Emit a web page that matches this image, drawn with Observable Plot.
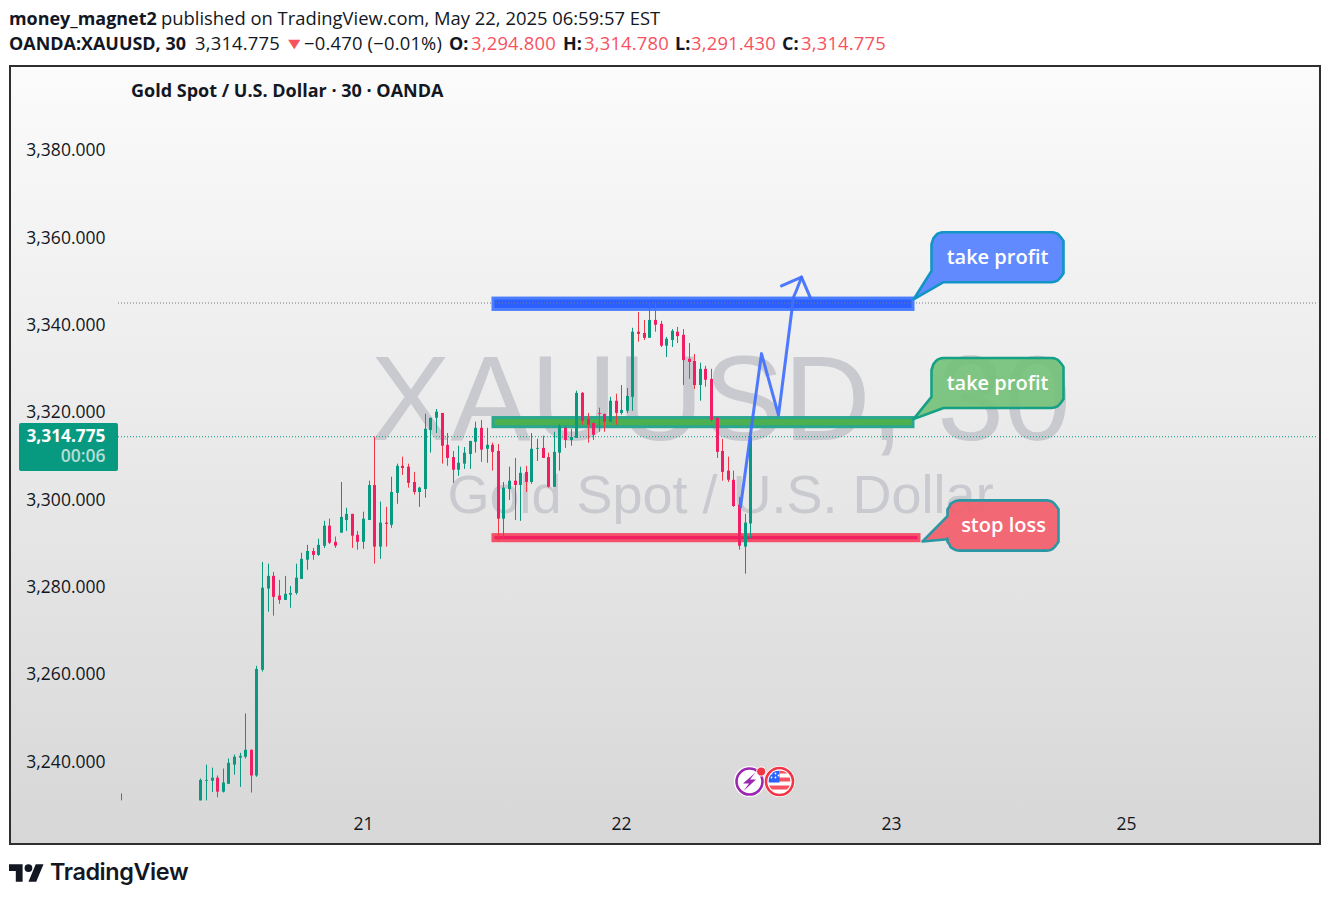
<!DOCTYPE html>
<html><head><meta charset="utf-8">
<script src="https://cdn.jsdelivr.net/npm/d3@7"></script>
<script src="https://cdn.jsdelivr.net/npm/@observablehq/plot@0.6"></script>
<style>
html,body{margin:0;padding:0;background:#fff;width:1330px;height:899px;overflow:hidden}
body{font-family:"Open Sans","Noto Sans",sans-serif;color:#131722;position:relative}
.hd{position:absolute;white-space:nowrap;font-size:18.4px;line-height:24px}
.hd.b{font-weight:700;font-size:17.95px}.hd.r{color:#f7525f}.hd.n{letter-spacing:.2px}
#frame{position:absolute;left:9px;top:65px;width:1312px;height:780px;box-sizing:border-box;border:2px solid #2e2e2e;background:linear-gradient(#fbfbfb,#d7d7d7)}
#frame svg{display:block}
#sym{position:absolute;left:131px;top:78px;font-size:18px;font-weight:700;line-height:24px;white-space:nowrap;color:#131722}
#logo{position:absolute;left:9px;top:859px;display:flex;align-items:center;gap:6px;font-family:Inter,sans-serif;font-weight:600;font-size:23.4px;letter-spacing:-.4px;color:#131722;line-height:26px}
</style></head><body>
<span class="hd b" style="left:9px;top:6px">money_magnet2</span>
<span class="hd" style="left:161px;top:6px">published on TradingView.com, May 22, 2025 06:59:57 EST</span>
<span class="hd b" style="left:9px;top:31px">OANDA:XAUUSD, 30</span>
<span class="hd n" style="left:195px;top:31px">3,314.775</span>
<span class="hd r" style="left:284px;top:31px;font-size:16px;transform:scaleX(1.3);transform-origin:left">▼</span>
<span class="hd n" style="left:304px;top:31px">−0.470 (−0.01%)</span>
<span class="hd b" style="left:449px;top:31px">O:</span><span class="hd r n" style="left:471px;top:31px">3,294.800</span>
<span class="hd b" style="left:563px;top:31px">H:</span><span class="hd r n" style="left:584px;top:31px">3,314.780</span>
<span class="hd b" style="left:675px;top:31px">L:</span><span class="hd r n" style="left:691px;top:31px">3,291.430</span>
<span class="hd b" style="left:782px;top:31px">C:</span><span class="hd r n" style="left:801px;top:31px">3,314.775</span>
<div id="frame"></div>
<div id="sym">Gold Spot / U.S. Dollar · 30 · OANDA</div>
<div id="logo"><svg width="35" height="20" viewBox="0 0 36 20"><path fill="#131722" d="M14 20H7V9H0V2h14zM28 20h-8l7.5-18h8z"/><circle cx="20" cy="6" r="4" fill="#131722"/></svg><span>TradingView</span></div>
<script>
// ---- Candles (bar position, then OHLC)
const barIndex = [-14.2, ...d3.range(0, 99)];
const opens = [3232.3,
3231.4,3235.9,3235.9,3236.6,3233.4,3235.2,3239.6,3241.2,3241.4,3243,
3237.1,3261.3,3279.9,3282.8,3278.3,3277.3,3278.5,3278.9,3282.1,3286.5,
3288.5,3287.6,3289.7,3294.3,3290.6,3292.7,3295.6,3297,3292.2,3290.6,
3295.6,3303.6,3289.5,3295,3294.5,3301.8,3308,3307.8,3304.3,3302,
3302.7,3316.2,3319,3320.1,3312.8,3310,3307.1,3308.5,3310.7,3313.5,
3316.7,3311.9,3312.8,3311.4,3295.9,3302.7,3304.6,3303.6,3306.6,3304.3,
3311.9,3312.1,3310,3303.2,3311,3316.7,3313.9,3314.4,3324.7,3318.7,
3317.8,3320.1,3319.9,3318.1,3322.9,3320.1,3320.6,3323.8,3338.7,3338.4,
3337.3,3341.4,3340.5,3335.5,3336.8,3338.7,3338,3332.5,3332,3326.5,
3330.2,3327.9,3319,3311.4,3306.9,3304.8,3299.1,3289.5,3294.8];
const highs = [3233,
3236.4,3239.6,3238.9,3237.1,3238.7,3241,3241.9,3242.3,3251.3,3243,
3262.2,3286,3285.6,3283.7,3281.9,3282.8,3280.5,3285.6,3288.1,3289.9,
3289.2,3291.3,3295.4,3295.9,3291.8,3304.3,3298.4,3297,3293.1,3297.5,
3304.6,3314.7,3299.8,3298.6,3305.5,3308.5,3310.1,3308.5,3306.6,3303.2,
3319.9,3319,3321,3320.1,3315.5,3311.4,3312.6,3312.3,3313.7,3318.1,
3318.5,3316.7,3313.3,3313,3304.3,3307.8,3309.8,3307.8,3308,3315.5,
3314.2,3314.9,3311,3315.8,3317.6,3317.3,3316.5,3325.2,3324.9,3320.1,
3318.1,3321.3,3319.9,3323.8,3324.5,3326.5,3325.8,3339.6,3343.2,3341.4,
3345.1,3345.5,3341.2,3337.5,3339.3,3339.8,3339.3,3336.1,3333.6,3331.6,
3330.9,3330.2,3319,3314.2,3310.1,3306.9,3300.9,3297,3314.78];
const lows = [3231.4,
3231.4,3231.4,3233.3,3232.1,3233.2,3235.2,3237.3,3234.5,3241,3233.2,
3236.8,3260.9,3274.6,3273.7,3276.4,3277.3,3275.5,3278.5,3282.1,3284.2,
3286.5,3287.4,3289.2,3290.1,3289.2,3292.7,3293.1,3289.2,3288.8,3289,
3295.6,3285.6,3286.7,3289.5,3293.8,3299.3,3305.9,3303,3301.4,3298.6,
3300.7,3311,3315.5,3308.5,3308,3304.1,3305.7,3307.3,3307.3,3311,
3308.9,3308.7,3306.9,3290.8,3291.3,3300.2,3295.6,3295.4,3302,3303.9,
3309.1,3309.8,3303,3303.2,3306.9,3312.1,3312.6,3314.4,3317.4,3313.3,
3313.9,3315.8,3315.8,3318.1,3317.4,3319.7,3320.1,3320.6,3336.4,3336.8,
3337.3,3338.7,3335.2,3332.9,3335.2,3336.1,3326.5,3327.9,3325.6,3322.9,
3326.1,3318.1,3309.8,3304.6,3304.3,3298.6,3288.8,3283.3,3291.43];
const closes = [3232.3,
3236.1,3236.1,3236.6,3233.4,3235.5,3240,3241.4,3241.6,3243,3237.1,
3261.5,3280.1,3282.8,3278,3277.3,3278.7,3278.9,3282.4,3286.7,3288.5,
3287.6,3289.9,3294.3,3290.4,3289.7,3296.3,3297,3292,3290.6,3295.9,
3303.6,3289.5,3295,3294.7,3302,3308,3307.5,3304.1,3302,3303,
3316.5,3319,3320.4,3312.6,3309.8,3307.1,3308.7,3311,3313.7,3316.7,
3311.7,3312.8,3311.2,3295.9,3303,3304.6,3303.6,3306.4,3304.3,3311.9,
3312.1,3309.8,3303.2,3311.2,3317.1,3313.9,3314.6,3324.7,3318.3,3317.4,
3315.1,3319.9,3318.1,3322.9,3320.1,3320.8,3324,3338.7,3338.2,3337.3,
3341.4,3340.3,3335.5,3337.1,3338.9,3337.7,3332.2,3331.8,3326.5,3330.2,
3327.7,3318.5,3311.2,3306.6,3304.8,3298.8,3289.7,3295,3314.775];

// ---- Axes
const priceTicks = [3240,3260,3280,3300,3320,3340,3360,3380];
const dayTickBars = [29,75,123,165];
const dayLabels = ["21","22","23","25"];

// ---- Annotation values, in bar / price units
const lastPrice = 3314.775, prevLevel = 3345.38;
const zones = [
 {x1:52.2,x2:127.08,y1:3343.8,y2:3346.4,fill:"#2b5fff",stroke:"#4b7dff"},
 {x1:52.2,x2:127.08,y1:3316.95,y2:3319.05,fill:"#4caf50",stroke:"#2ba68f"},
 {x1:52.2,x2:128.15,y1:3290.85,y2:3292.25,fill:"#f21e64",stroke:"#f5506a"}];
const arrowXs = [96.16,99.96,102.94,105.67,106.15,107.03];
const arrowYs = [3298.7,3333.8,3319.7,3346.7,3348.3,3351.3];
const wingXs = [103.47,107.03,108.64];
const wingYs = [3349.3,3351.3,3346.5];
const calloutBoxes = [
 {x1:130.28,x2:153.72,top:3361.6,bottom:3350.15,fill:"#5f88ff",op:.98,stroke:"#1295c6",tail:[[132.39,3350.15],[126.99,3346.2],[130.28,3352.7]],label:"take profit",lx:142,ly:3355.8},
 {x1:130.28,x2:153.72,top:3332.8,bottom:3321.36,fill:"#72c077",op:.9,stroke:"#16a085",tail:[[132.39,3321.36],[126.99,3318.8],[130.28,3323.9]],label:"take profit",lx:142,ly:3327},
 {x1:133.04,x2:152.83,top:3300.2,bottom:3288.7,fill:"#f2616f",op:.95,stroke:"#2a97a4",round:true,tail:[[133.04,3291.3],[128.55,3290.8],[133.04,3296.6]],label:"stop loss",lx:143,ly:3294.45}];
const rx = 2.14, ry = 2.75;

const bars = barIndex.map((i,k)=>({i,open:opens[k],high:highs[k],low:lows[k],close:closes[k]}));
const up = bars.filter(d=>d.close>=d.open), down = bars.filter(d=>d.close<d.open);

function arc(cx,cy,a0,a1){return d3.range(0,7).map(k=>{const t=(a0+(a1-a0)*k/6)*Math.PI/180;return {x:cx+rx*Math.cos(t),y:cy+ry*Math.sin(t)};});}
function outline(b){
 let p=[...arc(b.x1+rx,b.top-ry,180,90),...arc(b.x2-rx,b.top-ry,90,0),...arc(b.x2-rx,b.bottom+ry,0,-90)];
 if(b.round)p=[...p,...arc(b.x1+rx,b.bottom+ry,-90,-180)];
 p=[...p,...b.tail.map(([x,y])=>({x,y}))];
 p.push(p[0]);
 return p;
}
const arrow = arrowXs.map((x,k)=>({x,y:arrowYs[k]}));
const wing = wingXs.map((x,k)=>({x,y:wingYs[k]}));

const iconSvg = `<svg xmlns="http://www.w3.org/2000/svg" width="62" height="36" viewBox="0 0 62 36">
<circle cx="16" cy="18" r="15.5" fill="#fff"/><circle cx="16" cy="18" r="13" fill="#fff" stroke="#9c27b0" stroke-width="2.6"/>
<path d="M22 9 L9.5 20 L15.5 20 L10 27.5 L22.5 16 L16.5 16 Z" fill="#9c27b0"/>
<circle cx="27.7" cy="8" r="4.6" fill="#f23645" stroke="#fff" stroke-width="1"/>
<circle cx="46" cy="18" r="15.5" fill="#fff"/><circle cx="46" cy="18" r="13.5" fill="#fff" stroke="#f23645" stroke-width="2.6"/>
<clipPath id="c"><circle cx="46" cy="18" r="11"/></clipPath>
<g clip-path="url(#c)"><rect x="35" y="7" width="22" height="22" fill="#fff"/><rect x="35" y="14" width="22" height="4" fill="#f7525f"/><rect x="35" y="22" width="22" height="4" fill="#f7525f"/><rect x="46" y="7" width="11" height="3" fill="#f7525f"/><rect x="35" y="7" width="11" height="12" fill="#2962ff"/>
<g fill="#fff"><circle cx="38" cy="10" r=".9"/><circle cx="42" cy="10" r=".9"/><circle cx="38" cy="14" r=".9"/><circle cx="42" cy="14" r=".9"/><circle cx="45" cy="12" r=".9"/></g></g></svg>`;
const iconSrc = "data:image/svg+xml," + encodeURIComponent(iconSvg);

const fmt = d3.format(",.3f");
const chart = Plot.plot({
 width:1308,height:776,
 marginLeft:107,marginRight:1,marginTop:0,marginBottom:37,
 style:{background:"transparent",fontFamily:'"Open Sans","Noto Sans",sans-serif',fontSize:"17.5px",color:"#131722",overflow:"visible"},
 x:{domain:[-14.67,199.16],round:true},
 y:{domain:[3230.12,3399.3]},
 marks:[
  Plot.text(["XAUUSD, 30"],{x:()=>92.6,y:()=>3322.8,text:d=>d,fontSize:120,fill:"#c9cacf",fontFamily:'"Liberation Sans",Arial,sans-serif',lineAnchor:"middle"}),
  Plot.text(["Gold Spot / U.S. Dollar"],{x:()=>92.6,y:()=>3301.3,text:d=>d,fontSize:54,fill:"#c9cacf",fontFamily:'"Liberation Sans",Arial,sans-serif',lineAnchor:"middle"}),
  Plot.rect(zones,{x1:"x1",x2:"x2",y1:"y1",y2:"y2",fill:"fill",stroke:"stroke",strokeWidth:3}),
  Plot.ruleY([prevLevel],{stroke:"#787b86",strokeDasharray:"1 2",strokeWidth:1}),
  Plot.ruleY([lastPrice],{stroke:"#089981",strokeDasharray:"1 2",strokeWidth:1}),
  Plot.ruleX(up,{x:"i",y1:"low",y2:"high",stroke:"#089981",strokeWidth:1}),
  Plot.ruleX(down,{x:"i",y1:"low",y2:"high",stroke:"#f23645",strokeWidth:1}),
  Plot.ruleX(up,{x:"i",y1:"open",y2:"close",stroke:"#089981",strokeWidth:3}),
  Plot.ruleX(down,{x:"i",y1:"open",y2:"close",stroke:"#f01e62",strokeWidth:3}),
  Plot.line(arrow,{x:"x",y:"y",stroke:"#3f6fff",strokeWidth:3,strokeOpacity:.92}),
  Plot.line(wing,{x:"x",y:"y",stroke:"#3f6fff",strokeWidth:3,strokeOpacity:.92}),
  ...calloutBoxes.map(b=>Plot.line(outline(b),{x:"x",y:"y",fill:b.fill,fillOpacity:b.op,stroke:b.stroke,strokeWidth:2.6})),
  Plot.text(calloutBoxes,{x:"lx",y:"ly",text:"label",fill:"#fff",fontSize:20,fontWeight:600,lineAnchor:"middle",fontFamily:'"Open Sans",sans-serif'}),
  Plot.image([0],{x:()=>100.44,y:()=>3235.84,src:iconSrc,width:62,height:36}),
  Plot.rect([0],{x1:()=>-32.31,x2:()=>-14.67,y1:()=>3306.81,y2:()=>3317.8,fill:"#089981",rx:2}),
  Plot.text(["3,314.775"],{x:()=>-17,y:()=>3314.82,text:d=>d,fill:"#fff",fontWeight:700,fontSize:17.3,textAnchor:"end",lineAnchor:"middle"}),
  Plot.text(["00:06"],{x:()=>-17,y:()=>3310.24,text:d=>d,fill:"#fff",fillOpacity:.7,fontWeight:600,fontSize:17.5,textAnchor:"end",lineAnchor:"middle"}),
  Plot.axisY({ticks:priceTicks,tickFormat:fmt,tickSize:0,tickPadding:13,label:null,dy:-1.2,fontVariant:"normal"}),
  Plot.axisX({ticks:dayTickBars,tickFormat:d=>dayLabels[dayTickBars.indexOf(d)],tickSize:0,tickPadding:11,label:null,fontVariant:"normal"})
 ]
});
document.getElementById("frame").appendChild(chart);
</script>
</body></html>
